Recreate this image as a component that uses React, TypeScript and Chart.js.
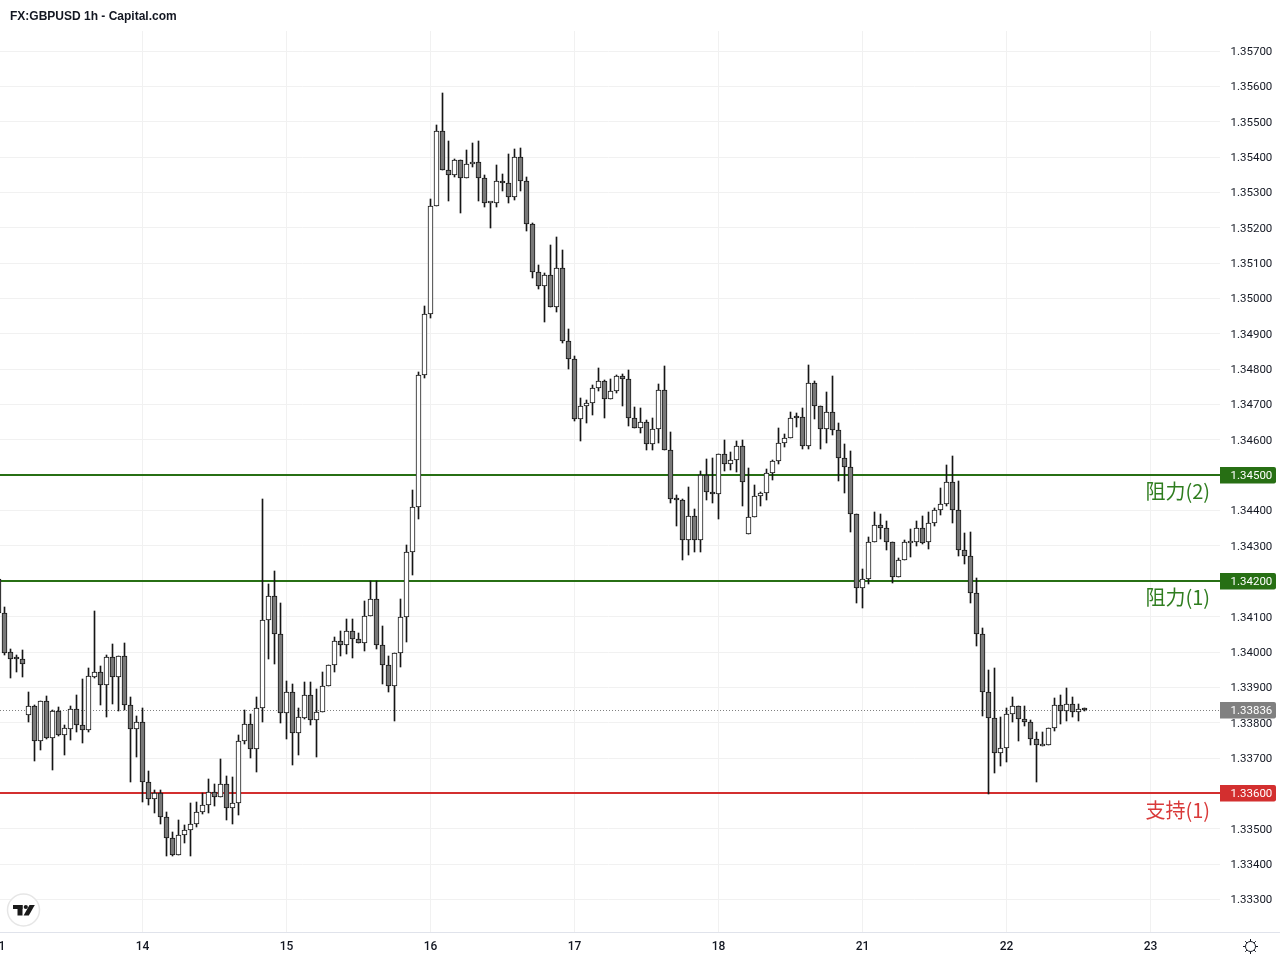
import React, { useEffect, useRef } from "react";
import { Chart, registerables } from "chart.js";

Chart.register(...registerables);

const chartTitle = "FX:GBPUSD 1h - Capital.com";
const firstHour = -24;
const dayHours = [-24, 0, 24, 48, 72, 96, 120, 144, 168];
const dayLabels = ["11", "14", "15", "16", "17", "18", "21", "22", "23"];
const priceTicks = [
  1.333, 1.334, 1.335, 1.336, 1.337, 1.338, 1.339, 1.34, 1.341, 1.342, 1.343, 1.344, 1.345,
  1.346, 1.347, 1.348, 1.349, 1.35, 1.351, 1.352, 1.353, 1.354, 1.355, 1.356, 1.357,
];

const opens = [
  1.34207, 1.34110, 1.33999, 1.33982, 1.33979, 1.33823, 1.33846, 1.33749, 1.33861, 1.33758,
  1.33832, 1.33766, 1.33783, 1.33838, 1.33793, 1.33780, 1.33930, 1.33943, 1.33908, 1.33985,
  1.33930, 1.33988, 1.33849, 1.33783, 1.33801, 1.33632, 1.33583, 1.33600, 1.33533, 1.33473,
  1.33427, 1.33482, 1.33496, 1.33513, 1.33547, 1.33566, 1.33603, 1.33589, 1.33626, 1.33558,
  1.33572, 1.33747, 1.33796, 1.33725, 1.33841, 1.34090, 1.34158, 1.34050, 1.33827, 1.33886,
  1.33770, 1.33813, 1.33878, 1.33807, 1.33829, 1.33903, 1.33962, 1.34030, 1.34019, 1.34059,
  1.34036, 1.34025, 1.34101, 1.34149, 1.34019, 1.33962, 1.33903, 1.33996, 1.34098, 1.34282,
  1.34409, 1.34784, 1.34955, 1.35261, 1.35473, 1.35363, 1.35348, 1.35391, 1.35340, 1.35380,
  1.35385, 1.35340, 1.35269, 1.35269, 1.35331, 1.35326, 1.35286, 1.35399, 1.35331, 1.35210,
  1.35074, 1.35034, 1.35066, 1.34975, 1.35085, 1.34881, 1.34828, 1.34658, 1.34695, 1.34704,
  1.34746, 1.34766, 1.34715, 1.34737, 1.34780, 1.34771, 1.34661, 1.34633, 1.34650, 1.34588,
  1.34630, 1.34740, 1.34571, 1.34432, 1.34429, 1.34316, 1.34384, 1.34316, 1.34500, 1.34452,
  1.34446, 1.34559, 1.34531, 1.34542, 1.34582, 1.34333, 1.34381, 1.34440, 1.34449, 1.34506,
  1.34539, 1.34590, 1.34605, 1.34664, 1.34664, 1.34582, 1.34760, 1.34695, 1.34630, 1.34678,
  1.34627, 1.34548, 1.34522, 1.34390, 1.34180, 1.34206, 1.34310, 1.34358, 1.34350, 1.34310,
  1.34213, 1.34259, 1.34309, 1.34310, 1.34350, 1.34310, 1.34364, 1.34401, 1.34418, 1.34480,
  1.34403, 1.34288, 1.34271, 1.34166, 1.34050, 1.33886, 1.33813, 1.33714, 1.33728, 1.33825,
  1.33846, 1.33810, 1.33801, 1.33753, 1.33735, 1.33736, 1.33784, 1.33849, 1.33832, 1.33852, 1.33829, 1.33838,
];

const closes = [
  1.34110, 1.33998, 1.33981, 1.33979, 1.33967, 1.33846, 1.33749, 1.33861, 1.33758, 1.33832,
  1.33766, 1.33784, 1.33838, 1.33793, 1.33780, 1.33931, 1.33943, 1.33908, 1.33985, 1.33930,
  1.33988, 1.33849, 1.33783, 1.33801, 1.33632, 1.33583, 1.33600, 1.33533, 1.33473, 1.33427,
  1.33482, 1.33496, 1.33513, 1.33547, 1.33566, 1.33603, 1.33589, 1.33626, 1.33558, 1.33572,
  1.33747, 1.33796, 1.33725, 1.33841, 1.34090, 1.34158, 1.34050, 1.33827, 1.33886, 1.33770,
  1.33815, 1.33878, 1.33807, 1.33829, 1.33903, 1.33962, 1.34030, 1.34019, 1.34059, 1.34036,
  1.34025, 1.34101, 1.34149, 1.34019, 1.33962, 1.33903, 1.33996, 1.34098, 1.34282, 1.34409,
  1.34784, 1.34955, 1.35261, 1.35473, 1.35363, 1.35348, 1.35391, 1.35340, 1.35380, 1.35385,
  1.35340, 1.35269, 1.35271, 1.35331, 1.35326, 1.35286, 1.35399, 1.35331, 1.35210, 1.35074,
  1.35034, 1.35066, 1.34975, 1.35085, 1.34881, 1.34828, 1.34658, 1.34695, 1.34704, 1.34746,
  1.34766, 1.34715, 1.34737, 1.34780, 1.34771, 1.34661, 1.34633, 1.34650, 1.34588, 1.34630,
  1.34740, 1.34571, 1.34432, 1.34429, 1.34316, 1.34384, 1.34316, 1.34500, 1.34452, 1.34446,
  1.34559, 1.34531, 1.34542, 1.34582, 1.34480, 1.34381, 1.34440, 1.34449, 1.34506, 1.34539,
  1.34590, 1.34605, 1.34661, 1.34661, 1.34582, 1.34760, 1.34695, 1.34630, 1.34678, 1.34627,
  1.34548, 1.34522, 1.34390, 1.34180, 1.34206, 1.34310, 1.34358, 1.34350, 1.34310, 1.34213,
  1.34259, 1.34310, 1.34310, 1.34350, 1.34309, 1.34364, 1.34401, 1.34418, 1.34480, 1.34403,
  1.34288, 1.34271, 1.34166, 1.34050, 1.33886, 1.33813, 1.33714, 1.33728, 1.33825, 1.33846,
  1.33810, 1.33801, 1.33753, 1.33736, 1.33736, 1.33784, 1.33849, 1.33832, 1.33852, 1.33829, 1.33838, 1.33836,
];

const highs = [
  1.34210, 1.34128, 1.34009, 1.33992, 1.34006, 1.33887, 1.33850, 1.33861, 1.33876, 1.33835,
  1.33844, 1.33794, 1.33847, 1.33878, 1.33924, 1.33955, 1.34116, 1.33960, 1.33992, 1.34023,
  1.33988, 1.34025, 1.33873, 1.33819, 1.33841, 1.33663, 1.33610, 1.33610, 1.33548, 1.33491,
  1.33525, 1.33511, 1.33573, 1.33575, 1.33600, 1.33641, 1.33627, 1.33697, 1.33649, 1.33647,
  1.33764, 1.33836, 1.33825, 1.33873, 1.34433, 1.34192, 1.34229, 1.34139, 1.33918, 1.33910,
  1.33841, 1.33915, 1.33915, 1.33895, 1.33943, 1.33962, 1.34042, 1.34059, 1.34093, 1.34093,
  1.34053, 1.34144, 1.34201, 1.34201, 1.34074, 1.33989, 1.33996, 1.34150, 1.34302, 1.34458,
  1.34792, 1.34979, 1.35281, 1.35491, 1.35580, 1.35445, 1.35395, 1.35391, 1.35420, 1.35440,
  1.35445, 1.35349, 1.35272, 1.35378, 1.35352, 1.35409, 1.35422, 1.35426, 1.35343, 1.35213,
  1.35095, 1.35071, 1.35151, 1.35173, 1.35137, 1.34914, 1.34836, 1.34718, 1.34713, 1.34754,
  1.34803, 1.34769, 1.34771, 1.34783, 1.34786, 1.34797, 1.34692, 1.34689, 1.34655, 1.34661,
  1.34757, 1.34808, 1.34621, 1.34443, 1.34432, 1.34466, 1.34404, 1.34511, 1.34545, 1.34548,
  1.34559, 1.34599, 1.34565, 1.34596, 1.34599, 1.34520, 1.34472, 1.34452, 1.34518, 1.34542,
  1.34633, 1.34616, 1.34679, 1.34675, 1.34689, 1.34812, 1.34766, 1.34695, 1.34735, 1.34781,
  1.34647, 1.34588, 1.34569, 1.34390, 1.34234, 1.34325, 1.34396, 1.34390, 1.34371, 1.34310,
  1.34267, 1.34317, 1.34348, 1.34371, 1.34385, 1.34396, 1.34407, 1.34464, 1.34529, 1.34554,
  1.34484, 1.34336, 1.34339, 1.34209, 1.34067, 1.33949, 1.33954, 1.33816, 1.33841, 1.33872,
  1.33846, 1.33846, 1.33807, 1.33774, 1.33774, 1.33784, 1.33869, 1.33878, 1.33897, 1.33872, 1.33852, 1.33841,
];

const lows = [
  1.34110, 1.33992, 1.33927, 1.33943, 1.33930, 1.33802, 1.33692, 1.33723, 1.33755, 1.33666,
  1.33763, 1.33709, 1.33751, 1.33774, 1.33743, 1.33775, 1.33927, 1.33850, 1.33817, 1.33853,
  1.33833, 1.33836, 1.33633, 1.33704, 1.33577, 1.33567, 1.33546, 1.33514, 1.33424, 1.33424,
  1.33427, 1.33459, 1.33424, 1.33506, 1.33542, 1.33546, 1.33564, 1.33589, 1.33525, 1.33514,
  1.33539, 1.33740, 1.33701, 1.33661, 1.33803, 1.33980, 1.33966, 1.33799, 1.33754, 1.33680,
  1.33709, 1.33811, 1.33794, 1.33703, 1.33829, 1.33903, 1.33943, 1.33989, 1.33994, 1.33983,
  1.34025, 1.34003, 1.34101, 1.34009, 1.33910, 1.33887, 1.33806, 1.33958, 1.34028, 1.34219,
  1.34376, 1.34775, 1.34944, 1.35261, 1.35363, 1.35277, 1.35343, 1.35243, 1.35340, 1.35371,
  1.35277, 1.35260, 1.35200, 1.35260, 1.35305, 1.35271, 1.35279, 1.35305, 1.35192, 1.35059,
  1.35028, 1.34934, 1.34975, 1.34963, 1.34875, 1.34801, 1.34654, 1.34598, 1.34649, 1.34671,
  1.34739, 1.34663, 1.34715, 1.34733, 1.34697, 1.34640, 1.34633, 1.34620, 1.34572, 1.34572,
  1.34592, 1.34571, 1.34422, 1.34357, 1.34261, 1.34275, 1.34284, 1.34284, 1.34431, 1.34422,
  1.34377, 1.34513, 1.34515, 1.34510, 1.34414, 1.34333, 1.34381, 1.34414, 1.34431, 1.34487,
  1.34533, 1.34581, 1.34605, 1.34637, 1.34575, 1.34575, 1.34659, 1.34575, 1.34592, 1.34615,
  1.34485, 1.34451, 1.34340, 1.34140, 1.34125, 1.34191, 1.34310, 1.34320, 1.34289, 1.34196,
  1.34213, 1.34259, 1.34270, 1.34301, 1.34306, 1.34292, 1.34356, 1.34388, 1.34414, 1.34366,
  1.34272, 1.34250, 1.34140, 1.34018, 1.33820, 1.33598, 1.33659, 1.33678, 1.33690, 1.33803,
  1.33748, 1.33792, 1.33738, 1.33633, 1.33735, 1.33736, 1.33777, 1.33797, 1.33806, 1.33817, 1.33806, 1.33834,
];

const levelPrices = [1.345, 1.342, 1.336];
const levelNames = ["阻力(2)", "阻力(1)", "支持(1)"];
const levelColors = ["#276f14", "#276f14", "#d32f2f"];
const levelTextColors = ["#2f7d1f", "#2f7d1f", "#d93a3a"];
const lastPrice = 1.33836;

const TICK_FONT = 'Roboto, "Noto Sans", sans-serif';
const INK = "#131722";
const GRID = "#f1f1f1";
const OFFSET = 20; // canvas sits this far left of the page edge so the clipped first day label is natural

const candleHours = opens.map((_, i) => firstHour + i);
const hourMin = -24.25;
const hourMax = 179.58333333;
const priceMax = 1.357566;
const priceMin = 1.33208;

const snapMarks = {
  id: "snapMarks",
  beforeDatasetsDraw(chart: any) {
    chart.getSortedVisibleDatasetMetas().forEach((meta: any) => {
      if (meta.type === "bar") {
        meta.data.forEach((el: any) => {
          el.x = Math.floor(el.x) + 0.5;
          el.y = Math.round(el.y);
          el.base = Math.round(el.base);
        });
      } else {
        const width = meta.dataset.options.borderWidth;
        meta.data.forEach((el: any) => {
          el.y = width % 2 === 1 ? Math.round(el.y) + 0.5 : Math.round(el.y);
        });
      }
    });
  },
};

const overlay = {
  id: "overlay",
  afterDraw(chart: any) {
    const { ctx, scales } = chart;
    const y = scales.y;
    ctx.save();
    ctx.translate(OFFSET, 0);

    // page title
    ctx.fillStyle = INK;
    ctx.textAlign = "left";
    ctx.textBaseline = "middle";
    ctx.font = 'bold 12px "Liberation Sans", Arial, sans-serif';
    ctx.fillText(chartTitle, 10, 16.5);

    // axis rule under the price scale
    ctx.strokeStyle = "#e0e3eb";
    ctx.lineWidth = 1;
    ctx.beginPath();
    ctx.moveTo(1220, 932.5);
    ctx.lineTo(1280, 932.5);
    ctx.stroke();

    // price tags and level names
    const tag = (price: number, color: string) => {
      const py = Math.round(y.getPixelForValue(price));
      ctx.fillStyle = color;
      ctx.beginPath();
      ctx.roundRect(1220, py - 8, 56, 16.5, [0, 2, 2, 0]);
      ctx.fill();
      ctx.fillStyle = "#ffffff";
      ctx.font = `11.5px ${TICK_FONT}`;
      ctx.textAlign = "left";
      ctx.textBaseline = "middle";
      ctx.fillText(price.toFixed(5), 1230.5, py + 1.5);
    };
    tag(lastPrice, "#808080");
    levelPrices.forEach((price, i) => {
      tag(price, levelColors[i]);
      ctx.fillStyle = levelTextColors[i];
      ctx.font = '20px "Noto Sans CJK SC", "Noto Sans", sans-serif';
      ctx.textAlign = "right";
      ctx.textBaseline = "middle";
      ctx.fillText(levelNames[i], 1210, y.getPixelForValue(price) + 16.5);
    });

    // logo badge
    ctx.fillStyle = "#ffffff";
    ctx.strokeStyle = "#e6e6e6";
    ctx.lineWidth = 1.5;
    ctx.beginPath();
    ctx.arc(23.5, 910, 16, 0, Math.PI * 2);
    ctx.fill();
    ctx.stroke();
    ctx.fillStyle = "#1a1a1a";
    ctx.fillRect(13, 905, 9.5, 4);
    ctx.fillRect(17.5, 905, 5, 10.5);
    ctx.beginPath();
    ctx.arc(25.8, 907, 2.1, 0, Math.PI * 2);
    ctx.fill();
    ctx.beginPath();
    ctx.moveTo(29.5, 905);
    ctx.lineTo(34.8, 905);
    ctx.lineTo(28.8, 915.5);
    ctx.lineTo(23.6, 915.5);
    ctx.closePath();
    ctx.fill();

    // settings glyph
    const cx = 1250.5;
    const cy = 946.5;
    ctx.strokeStyle = INK;
    ctx.lineWidth = 1;
    ctx.beginPath();
    ctx.arc(cx, cy, 5, 0, Math.PI * 2);
    ctx.stroke();
    for (let k = 0; k < 8; k++) {
      const a = (k * Math.PI) / 4;
      ctx.beginPath();
      ctx.moveTo(cx + Math.cos(a) * 5, cy + Math.sin(a) * 5);
      ctx.lineTo(cx + Math.cos(a) * 7.5, cy + Math.sin(a) * 7.5);
      ctx.stroke();
    }
    ctx.restore();
  },
};

export default function App() {
  const ref = useRef<HTMLCanvasElement | null>(null);
  useEffect(() => {
    const levelLine = (price: number, color: string, width: number, dash: number[]) => ({
      type: "line" as const,
      data: [
        { x: hourMin, y: price },
        { x: hourMax, y: price },
      ],
      borderColor: color,
      borderWidth: width,
      borderDash: dash,
      pointRadius: 0,
      order: 2,
    });
    const chart = new Chart(ref.current as HTMLCanvasElement, {
      type: "bar",
      data: {
        datasets: [
          {
            label: "body",
            data: candleHours.map((h, i) => ({ x: h, y: [opens[i], closes[i]] })),
            backgroundColor: opens.map((o, i) => (closes[i] >= o ? "#ffffff" : "#787878")),
            borderColor: "#161616",
            borderWidth: 1,
            borderSkipped: false,
            maxBarThickness: 5,
            barPercentage: 1,
            categoryPercentage: 1,
            minBarLength: 2,
            grouped: false,
            order: 0,
          },
          {
            label: "wick",
            data: candleHours.map((h, i) => ({ x: h, y: [lows[i], highs[i]] })),
            backgroundColor: "#161616",
            borderWidth: 0,
            maxBarThickness: 1,
            barPercentage: 1,
            categoryPercentage: 1,
            grouped: false,
            order: 1,
          },
          ...levelPrices.map((p, i) => levelLine(p, levelColors[i], 2, [])),
          levelLine(lastPrice, "#808080", 1, [1, 2]),
        ] as any,
      },
      options: {
        responsive: false,
        animation: false,
        devicePixelRatio: 1,
        layout: { autoPadding: false, padding: { left: OFFSET - 3, top: 31, right: 0, bottom: 0 } },
        plugins: { legend: { display: false }, tooltip: { enabled: false }, title: { display: false } },
        scales: {
          x: {
            type: "linear",
            min: hourMin,
            max: hourMax,
            offset: false,
            afterFit(scale: any) {
              scale.height = 28;
            },
            afterBuildTicks(scale: any) {
              scale.ticks = dayHours.map((value) => ({ value }));
            },
            grid: { color: GRID, lineWidth: 1, drawTicks: false, offset: false },
            border: { color: "#e0e3eb", width: 1 },
            ticks: {
              autoSkip: false,
              maxRotation: 0,
              padding: 8,
              color: INK,
              font: { family: TICK_FONT, size: 12, weight: "500" },
              callback: (value: any) => dayLabels[dayHours.indexOf(value)] ?? "",
            },
          },
          y: {
            position: "right",
            min: priceMin,
            max: priceMax,
            afterFit(scale: any) {
              scale.width = 60;
            },
            afterBuildTicks(scale: any) {
              scale.ticks = priceTicks.map((value) => ({ value }));
            },
            grid: { color: GRID, lineWidth: 1, drawTicks: false },
            border: { display: false },
            ticks: {
              autoSkip: false,
              padding: 10.5,
              labelOffset: 1,
              color: INK,
              font: { family: TICK_FONT, size: 11.5 },
              callback: (value: any) => Number(value).toFixed(5),
            },
          },
        },
      } as any,
      plugins: [snapMarks, overlay],
    });
    return () => chart.destroy();
  }, []);
  return (
    <canvas
      ref={ref}
      width={1280 + OFFSET}
      height={960}
      style={{ position: "absolute", left: -OFFSET, top: 0, display: "block" }}
    />
  );
}
